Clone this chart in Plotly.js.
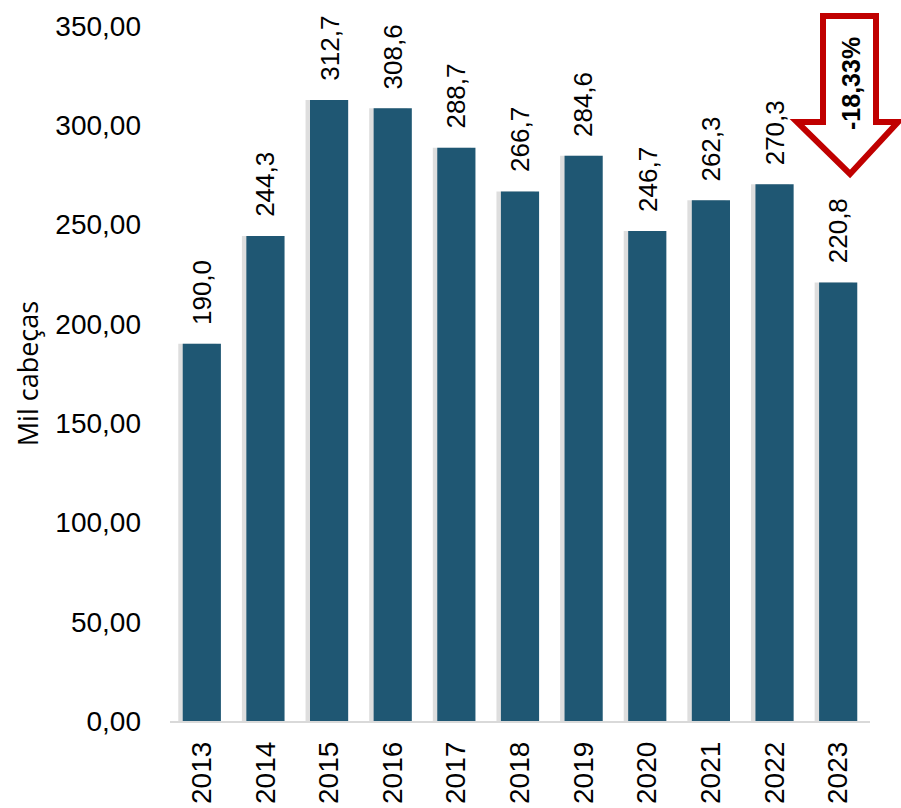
<!DOCTYPE html>
<html>
<head>
<meta charset="utf-8">
<script src="https://cdn.plot.ly/plotly-3.0.1.min.js"></script>
<style>html,body{margin:0;padding:0;background:#fff;}#chart{width:901px;height:808px;}</style>
</head>
<body>
<div id="chart"></div>
<script>
var years = ['2013','2014','2015','2016','2017','2018','2019','2020','2021','2022','2023'];
var values = [190.0, 244.3, 312.7, 308.6, 288.7, 266.7, 284.6, 246.7, 262.3, 270.3, 220.8];
var valueLabels = ['190,0','244,3','312,7','308,6','288,7','266,7','284,6','246,7','262,3','270,3','220,8'];
var yTickVals = [0, 50, 100, 150, 200, 250, 300, 350];
var yTickText = ['0,00','50,00','100,00','150,00','200,00','250,00','300,00','350,00'];
var changeLabel = '-18,33%';

var L = 170, R = 31, T = 26, B = 87, W = 901, H = 808;
var pw = W - L - R, ph = H - T - B;
function px(x){ return (x - L) / pw; }
function py(y){ return (H - B - y) / ph; }

var idx = years.map(function(_, i){ return i; });
var FONT = 'Liberation Sans, Arial, sans-serif';

var annotations = idx.map(function(i){
  return {x: i, y: values[i], xref: 'x', yref: 'y', text: valueLabels[i], textangle: -90,
    showarrow: false, yanchor: 'bottom', xanchor: 'center', yshift: 17,
    font: {family: FONT, size: 26, color: '#000'}};
});
annotations.push({x: px(851), y: py(84), xref: 'paper', yref: 'paper', text: '<b>' + changeLabel + '</b>',
  textangle: -90, showarrow: false, xanchor: 'center', yanchor: 'middle',
  font: {family: FONT, size: 25, color: '#000'}});

var pts = [[823,16],[876,16],[876,122],[898,122],[850,174],[797,122],[823,122]];
var path = 'M ' + pts.map(function(p){ return px(p[0]) + ' ' + py(p[1]); }).join(' L ') + ' Z';

var data = [{
  type: 'bar', x: idx, y: values, width: 0.6, offset: -0.37,
  marker: {color: 'rgba(0,0,0,0.13)'}, hoverinfo: 'none'
}, {
  type: 'bar', x: idx, y: values, width: 0.6, offset: -0.3,
  marker: {color: '#1F5773'}, hoverinfo: 'none'
}];

var layout = {
  width: W, height: H,
  margin: {l: L, r: R, t: T, b: B, pad: 0},
  paper_bgcolor: '#fff', plot_bgcolor: '#fff',
  barmode: 'overlay',
  showlegend: false,
  xaxis: {range: [-0.5, 10.5], tickvals: idx, ticktext: years, tickangle: -90, showgrid: false, zeroline: false,
    showline: true, linecolor: '#d9d9d9', linewidth: 1.5, ticks: '', ticklabelstandoff: 8,
    tickfont: {family: FONT, size: 28, color: '#000'}},
  yaxis: {range: [0, 350], tickvals: yTickVals, ticktext: yTickText, showgrid: false,
    zeroline: false, showline: false, ticks: '', ticklen: 0, ticklabelstandoff: 28,
    tickfont: {family: FONT, size: 28, color: '#000'},
    title: {text: 'Mil cabeças', standoff: 8, font: {family: 'Open Sans, Liberation Sans, sans-serif', size: 27, color: '#000'}}},
  shapes: [{type: 'path', xref: 'paper', yref: 'paper', path: path,
    fillcolor: '#fff', line: {color: '#C00000', width: 6}, layer: 'above'}],
  annotations: annotations
};

Plotly.newPlot('chart', data, layout, {displayModeBar: false, staticPlot: true});
</script>
</body>
</html>
